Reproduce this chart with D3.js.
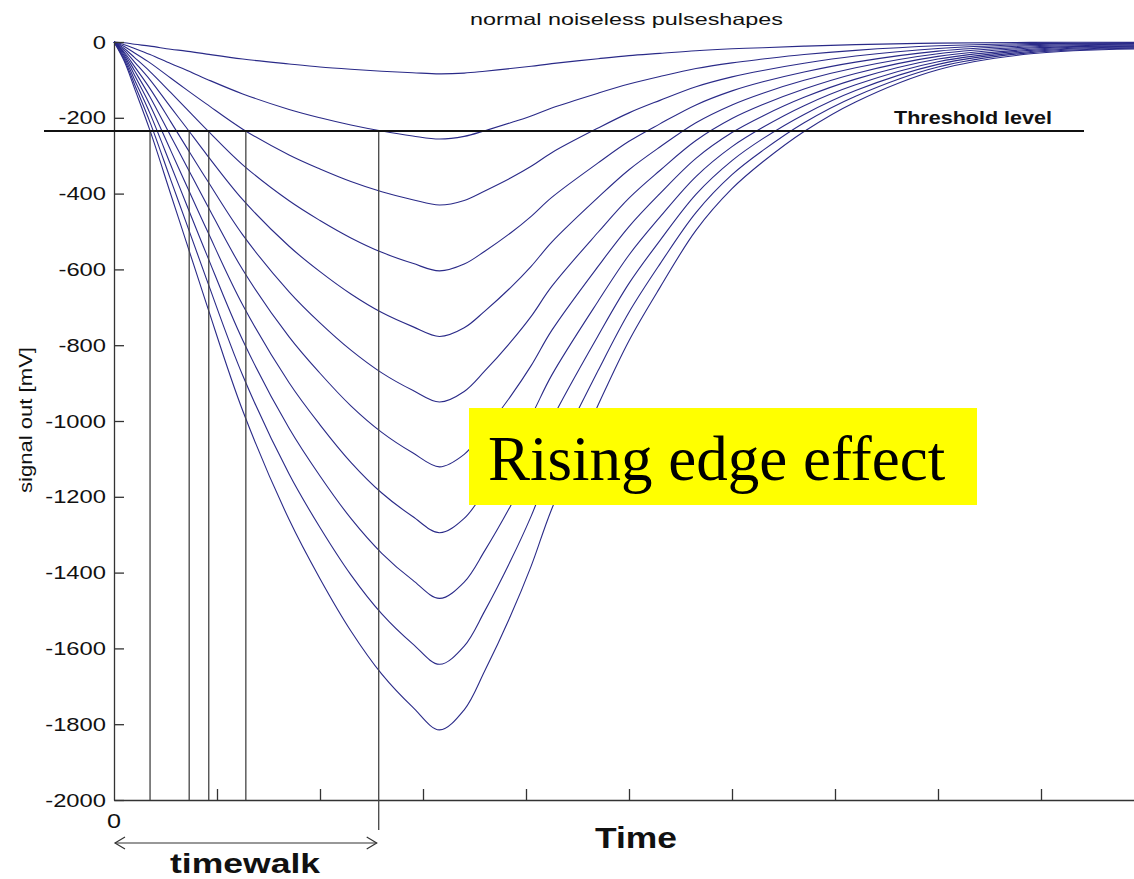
<!DOCTYPE html>
<html>
<head>
<meta charset="utf-8">
<script src="https://cdn.jsdelivr.net/npm/d3@7"></script>
<style>
  html, body { margin: 0; padding: 0; background: #fff; }
  svg { display: block; }
</style>
</head>
<body>
<svg id="chart" width="1134" height="879"></svg>
<script>
// Sample times shared by every pulse (arbitrary time units, 10 per grid tick)
const times = [0, 1, 2, 3.5, 5.5, 7, 9, 12.5, 17, 20, 23, 26, 29, 31.6, 34, 36, 38.5, 40.5, 42.5, 47, 50, 53, 56.5, 60, 63, 67, 72, 80, 89, 100];

// Pulse signals in mV, smallest to largest amplitude
const pulse1  = [0, -2, -6, -11, -19, -24, -32, -45, -58, -66, -72, -77, -81, -84, -82, -77, -70, -64, -57, -44, -36, -30, -23, -18, -15, -11, -7, -3, -1, -1];
const pulse2  = [0, -7, -17, -33, -57, -74, -98, -137, -178, -200, -219, -235, -248, -256, -249, -234, -213, -195, -174, -135, -111, -91, -70, -55, -45, -33, -22, -10, -4, -3];
const pulse3  = [0, -12, -29, -55, -95, -125, -164, -230, -298, -335, -368, -395, -416, -430, -418, -393, -359, -328, -292, -227, -187, -154, -118, -92, -75, -56, -37, -17, -7, -4];
const pulse4  = [0, -17, -41, -78, -133, -175, -231, -324, -419, -471, -517, -555, -584, -604, -586, -552, -504, -460, -410, -319, -262, -216, -166, -129, -105, -79, -53, -24, -10, -6];
const pulse5  = [0, -22, -53, -100, -172, -225, -297, -416, -539, -606, -665, -714, -751, -777, -754, -710, -648, -592, -528, -410, -337, -277, -213, -166, -135, -101, -68, -31, -13, -8];
const pulse6  = [0, -27, -65, -123, -210, -276, -363, -509, -659, -741, -813, -873, -919, -950, -922, -868, -792, -724, -645, -502, -412, -339, -260, -202, -165, -124, -83, -38, -16, -10];
const pulse7  = [0, -31, -76, -145, -248, -325, -428, -601, -778, -874, -960, -1030, -1084, -1121, -1088, -1025, -935, -854, -761, -592, -487, -400, -307, -239, -195, -146, -98, -45, -19, -11];
const pulse8  = [0, -36, -88, -167, -286, -376, -495, -694, -899, -1010, -1109, -1190, -1252, -1295, -1257, -1184, -1080, -987, -879, -684, -562, -462, -355, -276, -225, -168, -113, -52, -22, -13];
const pulse9  = [0, -41, -100, -189, -324, -426, -561, -787, -1019, -1145, -1257, -1349, -1420, -1468, -1425, -1342, -1224, -1119, -997, -775, -637, -524, -402, -313, -255, -191, -128, -59, -25, -15];
const pulse10 = [0, -46, -112, -212, -363, -476, -627, -880, -1140, -1281, -1406, -1509, -1588, -1642, -1594, -1501, -1369, -1251, -1115, -867, -713, -586, -450, -350, -286, -213, -143, -66, -28, -16];
const pulse11 = [0, -51, -123, -234, -401, -526, -693, -973, -1260, -1416, -1554, -1668, -1755, -1815, -1762, -1659, -1514, -1383, -1232, -958, -788, -648, -497, -387, -316, -236, -158, -73, -31, -18];

// Discriminator threshold (mV) and the times at which selected pulses cross it
const thresholdLevel = -235;
const crossingTimes = [3.5, 7.3, 9.2, 12.8, 25.7];
const timewalkEnd = 25.7;

// Axis ticks
const yTicks = [0, -200, -400, -600, -800, -1000, -1200, -1400, -1600, -1800, -2000];
const xTicks = [10, 20, 30, 40, 50, 60, 70, 80, 90];

const pulses = [pulse1, pulse2, pulse3, pulse4, pulse5, pulse6, pulse7, pulse8, pulse9, pulse10, pulse11];

const svg = d3.select("#chart");
const FONT = "Arial, 'Liberation Sans', Helvetica, sans-serif";

const x = d3.scaleLinear().domain([0, 100]).range([114, 1144]);
const y = d3.scaleLinear().domain([-2000, 0]).range([800, 42]);

// stretch a text element horizontally to a given width
function fitWidth(sel, w) {
  sel.attr("textLength", w).attr("lengthAdjust", "spacingAndGlyphs");
}

// ---- title
svg.append("text")
  .attr("x", 470).attr("y", 25)
  .attr("font-family", FONT).attr("font-size", 16.5).attr("fill", "#111")
  .text("normal noiseless pulseshapes")
  .call(fitWidth, 313);

// ---- pulse curves
const clip = svg.append("defs").append("clipPath").attr("id", "plotclip");
clip.append("rect").attr("x", 110).attr("y", 0).attr("width", 1024).attr("height", 805);

const line = d3.line()
  .x((d, i) => x(times[i]))
  .y(d => y(d))
  .curve(d3.curveCatmullRom.alpha(0.5));

svg.append("g").attr("clip-path", "url(#plotclip)")
  .selectAll("path")
  .data(pulses)
  .join("path")
  .attr("d", line)
  .attr("fill", "none")
  .attr("stroke", "#2a2a88")
  .attr("stroke-width", 1.1);

// ---- axes (inward ticks)
const yAxis = d3.axisLeft(y)
  .tickValues(yTicks)
  .tickSizeInner(-10)
  .tickSizeOuter(0)
  .tickPadding(8)
  .tickFormat(d => String(d));

const gy = svg.append("g").attr("transform", "translate(114,0)").call(yAxis);
gy.select(".domain").attr("stroke", "#333").attr("stroke-width", 1.3);
gy.selectAll(".tick line").attr("stroke", "#333").attr("stroke-width", 1.3);
gy.selectAll(".tick text")
  .attr("font-family", FONT).attr("font-size", 19).attr("fill", "#111")
  .each(function () {
    const t = d3.select(this);
    t.call(fitWidth, this.getComputedTextLength() * 1.25);
  });

const xAxis = d3.axisBottom(x)
  .tickValues(xTicks)
  .tickSizeInner(-11)
  .tickSizeOuter(0)
  .tickFormat("");

const gx = svg.append("g").attr("transform", "translate(0,800)").call(xAxis);
gx.select(".domain").attr("stroke", "#333").attr("stroke-width", 1.3);
gx.selectAll(".tick line").attr("stroke", "#333").attr("stroke-width", 1.3);

// origin label of the time axis
svg.append("text")
  .attr("x", x(0)).attr("y", 828)
  .attr("text-anchor", "middle")
  .attr("font-family", FONT).attr("font-size", 20).attr("fill", "#111")
  .text("0")
  .call(fitWidth, 14);

// ---- y axis title
svg.append("text")
  .attr("transform", "translate(32,420) rotate(-90)")
  .attr("text-anchor", "middle")
  .attr("font-family", FONT).attr("font-size", 17.5).attr("fill", "#111")
  .text("signal out [mV]")
  .call(fitWidth, 146);

// ---- threshold crossing markers
svg.append("g").selectAll("line")
  .data(crossingTimes)
  .join("line")
  .attr("x1", d => x(d)).attr("x2", d => x(d))
  .attr("y1", y(thresholdLevel))
  .attr("y2", d => d === timewalkEnd ? 830 : y(-2000))
  .attr("stroke", "#444")
  .attr("stroke-width", 1.3);

// ---- threshold line and label
svg.append("line")
  .attr("x1", 44).attr("x2", 1084)
  .attr("y1", y(thresholdLevel)).attr("y2", y(thresholdLevel))
  .attr("stroke", "#111").attr("stroke-width", 2);

svg.append("text")
  .attr("x", 894).attr("y", 124)
  .attr("font-family", FONT).attr("font-weight", "bold").attr("font-size", 18.5).attr("fill", "#111")
  .text("Threshold level")
  .call(fitWidth, 158);

// ---- timewalk arrow
const ay = 843;
const x0 = x(0) + 1, x1 = x(timewalkEnd) - 2;
svg.append("line")
  .attr("x1", x0).attr("x2", x1).attr("y1", ay).attr("y2", ay)
  .attr("stroke", "#333").attr("stroke-width", 1.2);
svg.append("path")
  .attr("d", `M${x0 + 10},${ay - 6} L${x0},${ay} L${x0 + 10},${ay + 6}`)
  .attr("fill", "none").attr("stroke", "#333").attr("stroke-width", 1.2);
svg.append("path")
  .attr("d", `M${x1 - 10},${ay - 6} L${x1},${ay} L${x1 - 10},${ay + 6}`)
  .attr("fill", "none").attr("stroke", "#333").attr("stroke-width", 1.2);

svg.append("text")
  .attr("x", 170).attr("y", 873)
  .attr("font-family", FONT).attr("font-weight", "bold").attr("font-size", 28).attr("fill", "#111")
  .text("timewalk")
  .call(fitWidth, 150);

// ---- time axis title
svg.append("text")
  .attr("x", 595).attr("y", 848)
  .attr("font-family", FONT).attr("font-weight", "bold").attr("font-size", 29).attr("fill", "#111")
  .text("Time")
  .call(fitWidth, 82);

// ---- annotation box
svg.append("rect")
  .attr("x", 469).attr("y", 408).attr("width", 508).attr("height", 97)
  .attr("fill", "#ffff00");
svg.append("text")
  .attr("x", 488).attr("y", 480)
  .attr("font-family", "'Liberation Serif', 'Times New Roman', serif")
  .attr("font-size", 63).attr("fill", "#000")
  .text("Rising edge effect");
</script>
</body>
</html>
